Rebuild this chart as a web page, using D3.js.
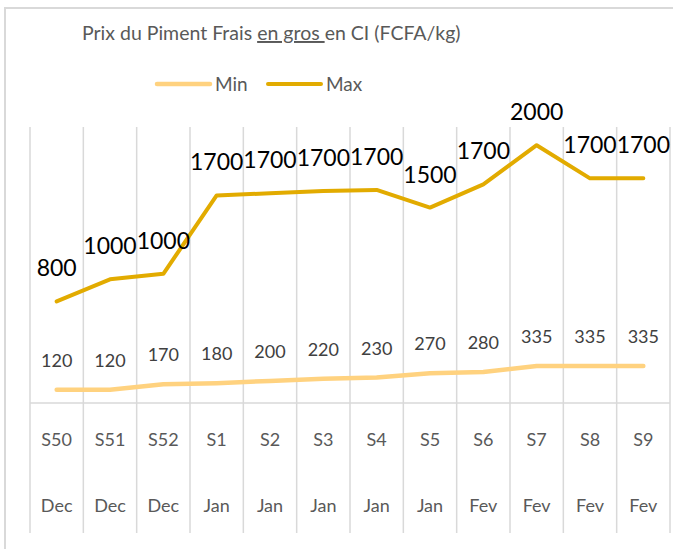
<!DOCTYPE html>
<meta charset="utf-8">
<style>
    body {
        margin: 0;
        background: #fff;
        font-family: Lato, sans-serif;
    }
    .grid line {
        stroke: #d9d9d9;
        stroke-width: 1.5px;
    }
    .line {
        fill: none;
        stroke-linejoin: round;
        stroke-linecap: round;
    }
</style>
<svg width="673" height="549"></svg>
<script src="https://cdn.jsdelivr.net/npm/d3@7"></script>
<script>

    // data
    var weeks = ["S50", "S51", "S52", "S1", "S2", "S3", "S4", "S5", "S6", "S7", "S8", "S9"];
    var months = ["Dec", "Dec", "Dec", "Jan", "Jan", "Jan", "Jan", "Jan", "Fev", "Fev", "Fev", "Fev"];
    var minPrice = [120, 120, 170, 180, 200, 220, 230, 270, 280, 335, 335, 335];
    var maxPrice = [800, 1000, 1000, 1700, 1700, 1700, 1700, 1500, 1700, 2000, 1700, 1700];

    var colors = {Min: "#ffd27f", Max: "#e2ab00"};
    var widths = {Min: 4.5, Max: 4};

    var svg = d3.select("svg");

    // outer chart frame (only top and left edges are visible in the crop)
    svg.append("path")
        .attr("d", "M5,549V8H673")
        .attr("fill", "none")
        .attr("stroke", "#d9d9d9")
        .attr("stroke-width", 2);

    var x = d3.scaleBand().domain(weeks).range([30, 670]);
    var y = d3.scaleLinear().domain([0, 2500]).range([403, 127]);

    // it's a stacked line chart: Max is drawn on top of Min
    var table = weeks.map(function(w, i) {
        return {week: w, Min: minPrice[i], Max: maxPrice[i]};
    });
    var series = d3.stack().keys(["Min", "Max"])(table);

    // vertical category separators
    var bounds = weeks.map(function(w) { return x(w); }).concat([x.range()[1]]);
    svg.append("g")
        .attr("class", "grid")
        .selectAll("line")
        .data(bounds)
        .enter().append("line")
        .attr("x1", function(d) { return d; })
        .attr("x2", function(d) { return d; })
        .attr("y1", y.range()[1])
        .attr("y2", 533);

    // horizontal axis line
    svg.append("g")
        .attr("class", "grid")
        .append("line")
        .attr("x1", x.range()[0])
        .attr("x2", x.range()[1])
        .attr("y1", y(0))
        .attr("y2", y(0));

    // two level category axis
    var weekAxis = svg.append("g")
        .attr("transform", "translate(0," + y(0) + ")")
        .call(d3.axisBottom(x).tickSize(0).tickPadding(0));
    weekAxis.select(".domain").remove();
    weekAxis.selectAll("text")
        .attr("y", 43)
        .attr("dy", 0)
        .style("font", "18px Lato")
        .style("fill", "#595959");

    var monthAxis = svg.append("g")
        .attr("transform", "translate(0," + y(0) + ")")
        .call(d3.axisBottom(x).tickSize(0).tickFormat(function(d, i) { return months[i]; }));
    monthAxis.select(".domain").remove();
    monthAxis.selectAll("text")
        .attr("y", 108.5)
        .attr("dy", 0)
        .style("font", "18px Lato")
        .style("fill", "#595959");

    var line = d3.line()
        .x(function(d) { return x(d.data.week) + x.bandwidth() / 2; })
        .y(function(d) { return y(d[1]); });

    svg.selectAll(".line")
        .data(series)
        .enter().append("path")
        .attr("class", "line")
        .attr("stroke", function(s) { return colors[s.key]; })
        .attr("stroke-width", function(s) { return widths[s.key]; })
        .attr("d", function(s) { return line(s); });

    // data labels, showing the raw (not stacked) values
    var labelStyle = {
        Min: {size: 18, fill: "#404040", off: 23},
        Max: {size: 23, fill: "#000", off: 25}
    };
    series.forEach(function(s) {
        var st = labelStyle[s.key];
        svg.append("g")
            .selectAll("text")
            .data(s)
            .enter().append("text")
            .attr("x", function(d) { return x(d.data.week) + x.bandwidth() / 2; })
            .attr("y", function(d) { return y(d[1]) - st.off; })
            .attr("text-anchor", "middle")
            .style("font-size", st.size + "px")
            .style("fill", st.fill)
            .text(function(d) { return d.data[s.key]; });
    });

    // title, "en gros" is underlined
    var title = svg.append("text")
        .attr("x", 82)
        .attr("y", 40)
        .style("font-size", "19.5px")
        .style("fill", "#595959");
    title.append("tspan").text("Prix du Piment Frais ");
    title.append("tspan").style("text-decoration", "underline").text("en gros ");
    title.append("tspan").text("en CI (FCFA/kg)");

    // legend
    var legend = svg.append("g")
        .selectAll("g")
        .data([{key: "Min", x: 157}, {key: "Max", x: 268}])
        .enter().append("g")
        .attr("transform", function(d) { return "translate(" + d.x + ",84)"; });
    legend.append("line")
        .attr("x2", 53)
        .attr("stroke", function(d) { return colors[d.key]; })
        .attr("stroke-width", function(d) { return widths[d.key]; })
        .attr("stroke-linecap", "round");
    legend.append("text")
        .attr("x", 58)
        .attr("y", 7)
        .style("font-size", "19px")
        .style("fill", "#595959")
        .text(function(d) { return d.key; });

</script>
